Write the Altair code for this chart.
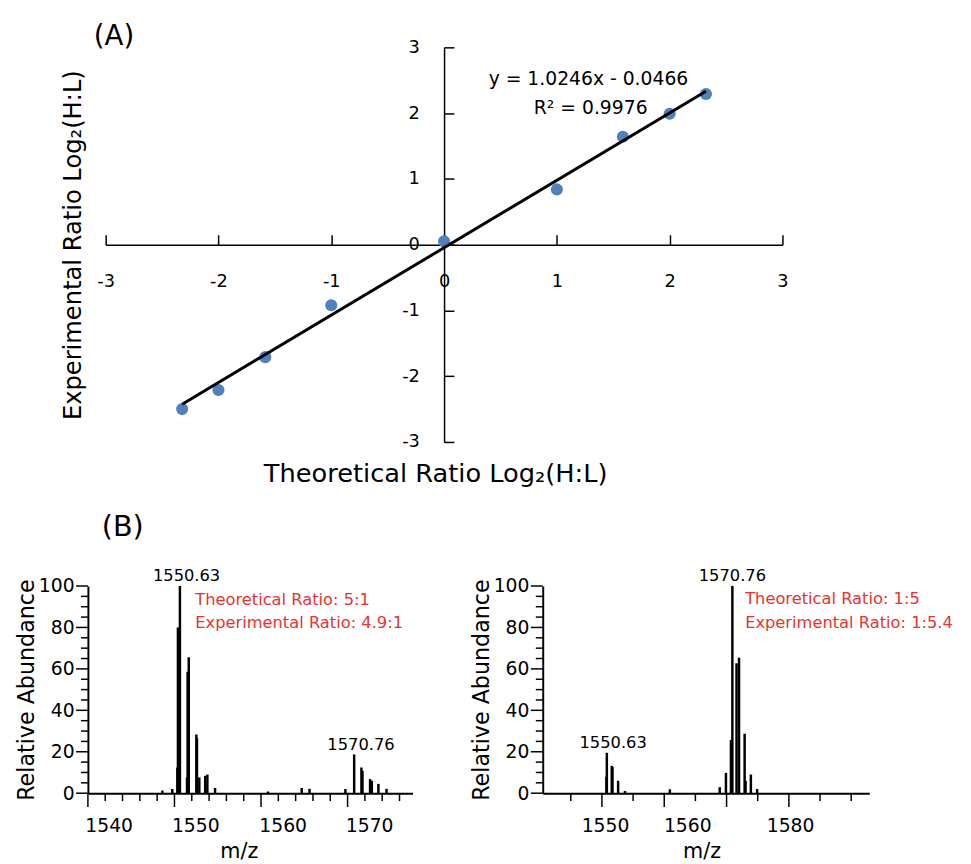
import altair as alt
import pandas as pd

FONT = "DejaVu Sans"
RED = "#e8332f"
BLUE = "#4f81bd"

# ---------------- Panel (A): log2 ratio regression ----------------
theoretical = [-2.3219, -2.0, -1.585, -1.0, 0.0, 1.0, 1.585, 2.0, 2.3219]
experimental = [-2.50, -2.21, -1.71, -0.92, 0.05, 0.84, 1.64, 1.99, 2.29]
slope = 1.0246
intercept = -0.0466
eq_text = ["y = 1.0246x - 0.0466", "R² = 0.9976"]
eq_x = [1.28, 1.30]
eq_y = [2.52, 2.07]
a_ticks = [-3, -2, -1, 0, 1, 2, 3]

# ---------------- Panel (B) left spectrum (5:1) ----------------
left_mz = [1548.6, 1549.75, 1550.33, 1550.40, 1550.63, 1551.45, 1551.52, 1551.65,
           1552.53, 1552.6, 1552.87, 1553.55, 1553.8, 1554.69,
           1560.8, 1564.7, 1565.6, 1569.75, 1570.76, 1571.6, 1571.72,
           1572.6, 1572.8, 1573.56, 1574.5]
left_ab = [1.3, 2.0, 12.4, 80.0, 100.0, 7.6, 58.6, 65.6,
           28.3, 26.5, 7.6, 8.4, 9.0, 2.5,
           0.8, 2.5, 2.1, 2.0, 18.7, 12.4, 10.8,
           6.8, 6.0, 4.5, 2.1]
left_lab = ["1550.63", "1570.76"]
left_lab_mz = [1551.4, 1571.55]
left_lab_ab = [100.0, 18.7]
left_note = ["Theoretical Ratio: 5:1", "Experimental Ratio: 4.9:1"]
left_note_mz = [1552.4, 1552.4]
left_note_ab = [93.3, 82.2]
left_major = [1540, 1550, 1560, 1570]
left_minor = [1542, 1544, 1546, 1548, 1552, 1554, 1556, 1558, 1562, 1564,
              1566, 1568, 1572, 1574, 1576]
left_tick_label_pos = [1542.4, 1552.4, 1562.5, 1572.5]
left_tick_label_txt = ["1540", "1550", "1560", "1570"]

# ---------------- Panel (B) right spectrum (1:5) ----------------
right_mz = [1550.72, 1550.79, 1551.58, 1551.70, 1552.6, 1553.7, 1560.9,
            1568.9, 1569.9, 1570.7, 1570.93, 1571.6, 1572.0, 1572.9,
            1573.05, 1573.9, 1574.9]
right_ab = [8.0, 19.5, 13.2, 12.7, 6.0, 1.1, 1.9,
            2.9, 9.8, 25.7, 100.0, 62.7, 65.4, 28.7,
            6.0, 9.0, 2.0]
right_lab = ["1570.76", "1550.63"]
right_lab_mz = [1570.93, 1551.8]
right_lab_ab = [100.0, 19.5]
right_note = ["Theoretical Ratio: 1:5", "Experimental Ratio: 1:5.4"]
right_note_mz = [1572.98, 1572.98]
right_note_ab = [93.7, 82.1]
right_major = [1550, 1560, 1570, 1580]
right_minor = [1545, 1555, 1565, 1575, 1585, 1590]
right_tick_label_pos = [1550.5, 1563.7, 1580.2]
right_tick_label_txt = ["1550", "1560", "1580"]

y_major = [0, 20, 40, 60, 80, 100]
y_minor = [5, 10, 15, 25, 30, 35, 45, 50, 55, 65, 70, 75, 85, 90, 95]

# ======================= Panel A chart =======================
pts = pd.DataFrame({"x": theoretical, "y": experimental})
fx = [min(theoretical), max(theoretical)]
fit = pd.DataFrame({"x": fx, "y": [slope * v + intercept for v in fx]})
eq = pd.DataFrame({"x": eq_x, "y": eq_y, "t": eq_text})

xs_a = alt.Scale(domain=[-3, 3], range=[18, 704], nice=False, zero=False)
ys_a = alt.Scale(domain=[-3, 3], nice=False, zero=False)

tick_style = dict(domainColor="black", domainWidth=1.5, tickColor="black",
                  tickWidth=1.5, labelFont=FONT, labelColor="black", grid=False,
                  labelFlush=False, labelOverlap=False)

x_tick_axis = alt.Axis(orient="top", offset=-200, values=a_ticks, tickSize=10,
                       labelPadding=-47, labelBaseline="middle", labelFontSize=18,
                       labelExpr="'' + datum.value", title=None,
                       minExtent=0, maxExtent=0, **tick_style)
y_tick_axis = alt.Axis(orient="right", offset=-359, values=a_ticks, tickSize=10,
                       labelPadding=-35, labelAlign="right", labelBaseline="middle",
                       labelFontSize=18, labelExpr="'' + datum.value", title=None,
                       minExtent=0, maxExtent=0, **tick_style)
x_title_axis = alt.Axis(orient="bottom", title="Theoretical Ratio Log₂(H:L)",
                        domain=False, ticks=False, labels=False, grid=False,
                        titleFont=FONT, titleFontSize=26, titleFontWeight="normal",
                        titleColor="black", titlePadding=19, titleX=352,
                        minExtent=0)
y_title_axis = alt.Axis(orient="left", title="Experimental Ratio Log₂(H:L)",
                        domain=False, ticks=False, labels=False, grid=False,
                        titleFont=FONT, titleFontSize=24.5, titleFontWeight="normal",
                        titleColor="black", titlePadding=2, minExtent=0)

points = alt.Chart(pts).mark_circle(size=150, color=BLUE, opacity=1).encode(
    x=alt.X("x:Q", scale=xs_a, axis=x_tick_axis),
    y=alt.Y("y:Q", scale=ys_a, axis=y_tick_axis),
)
line = alt.Chart(fit).mark_line(color="black", strokeWidth=3).encode(
    x=alt.X("x:Q", scale=xs_a, axis=x_title_axis),
    y=alt.Y("y:Q", scale=ys_a, axis=y_title_axis),
)
eq_marks = alt.Chart(eq).mark_text(font=FONT, fontSize=19, color="black",
                                   baseline="middle").encode(
    x=alt.X("x:Q", scale=xs_a, axis=None),
    y=alt.Y("y:Q", scale=ys_a, axis=None),
    text="t:N",
)
top = alt.layer(points, line, eq_marks).properties(
    width=720, height=400,
    title=alt.TitleParams("(A)", anchor="start", frame="group", font=FONT,
                          fontSize=28, fontWeight="normal", color="black",
                          dx=6, dy=37, offset=2, baseline="alphabetic"),
)


# ======================= Panel B charts =======================
def label_expr(pos, txt):
    expr = "''"
    for p, t in reversed(list(zip(pos, txt))):
        expr = f"datum.value === {p} ? '{t}' : ({expr})"
    return expr


OFF_X = alt.Axis(orient="top", domain=False, ticks=False, labels=False,
                 grid=False, title=None, minExtent=0, maxExtent=0)
OFF_Y = alt.Axis(orient="right", domain=False, ticks=False, labels=False,
                 grid=False, title=None, minExtent=0, maxExtent=0)


def spectrum(mz, ab, lab, lab_mz, lab_ab, note, note_mz, note_ab,
             xdomain, major, minor, tl_pos, tl_txt, width, title_x):
    H = 210
    peaks = pd.DataFrame({"mz": mz, "ab": ab, "base": [0.0] * len(mz)})
    labs = pd.DataFrame({"mz": lab_mz, "ab": lab_ab, "t": lab})
    notes = pd.DataFrame({"mz": note_mz, "ab": note_ab, "t": note})
    xs = alt.Scale(domain=xdomain, nice=False, zero=False)
    ys = alt.Scale(domain=[0, 100], nice=False)
    x_axis = alt.Axis(orient="bottom", values=tl_pos,
                      labelExpr=label_expr(tl_pos, tl_txt),
                      ticks=False, labelPadding=24,
                      labelFont=FONT, labelFontSize=19, labelColor="black",
                      labelFlush=False, labelOverlap=False,
                      domainColor="black", domainWidth=2, grid=False,
                      title="m/z", titleFont=FONT, titleFontSize=21,
                      titleFontWeight="normal", titleColor="black", titlePadding=5,
                      titleX=title_x)
    y_axis = alt.Axis(orient="left", values=y_major, ticks=False, labelPadding=14,
                      labelFont=FONT, labelFontSize=19, labelColor="black",
                      labelOverlap=False, labelFlush=False,
                      domainColor="black", domainWidth=2, grid=False,
                      title="Relative Abundance", titleFont=FONT, titleFontSize=22.5,
                      titleFontWeight="normal", titleColor="black", titlePadding=0)
    sticks = alt.Chart(peaks).mark_rule(color="black", strokeWidth=2.5).encode(
        x=alt.X("mz:Q", scale=xs, axis=x_axis),
        y=alt.Y("ab:Q", scale=ys, axis=y_axis),
        y2="base:Q",
    )

    def xticks(vals, length):
        return alt.Chart(pd.DataFrame({"v": vals})).mark_rule(
            color="black", strokeWidth=1.5).encode(
            x=alt.X("v:Q", scale=xs, axis=None),
            y=alt.value(H), y2=alt.value(H + length))

    def yticks(vals, length):
        return alt.Chart(pd.DataFrame({"v": vals})).mark_rule(
            color="black", strokeWidth=1.5).encode(
            y=alt.Y("v:Q", scale=ys, axis=None),
            x=alt.value(0), x2=alt.value(-length))

    peak_text = alt.Chart(labs).mark_text(font=FONT, fontSize=16.5, color="black",
                                          baseline="alphabetic", dy=-5).encode(
        x=alt.X("mz:Q", scale=xs, axis=OFF_X),
        y=alt.Y("ab:Q", scale=ys, axis=OFF_Y),
        text="t:N",
    )
    note_text = alt.Chart(notes).mark_text(font=FONT, fontSize=16.5, color=RED,
                                           align="left", baseline="middle").encode(
        x=alt.X("mz:Q", scale=xs, axis=None),
        y=alt.Y("ab:Q", scale=ys, axis=None),
        text="t:N",
    )
    return alt.layer(sticks, peak_text, xticks(major, 14), xticks(minor, 8),
                     yticks(y_major, 12), yticks(y_minor, 7),
                     note_text).properties(width=width, height=H)


left = spectrum(left_mz, left_ab, left_lab, left_lab_mz, left_lab_ab,
                left_note, left_note_mz, left_note_ab,
                [1540, 1577.5], left_major, left_minor,
                left_tick_label_pos, left_tick_label_txt, 329, 153)

right = spectrum(right_mz, right_ab, right_lab, right_lab_mz, right_lab_ab,
                 right_note, right_note_mz, right_note_ab,
                 [1540.5, 1592.9], right_major, right_minor,
                 right_tick_label_pos, right_tick_label_txt, 331, 161)

bottom = alt.hconcat(left, right, spacing=132, bounds="flush",
                     title=alt.TitleParams("(B)", anchor="start", frame="group",
                                           font=FONT, fontSize=29, fontWeight="normal",
                                           color="black", dx=14, offset=4,
                                           baseline="alphabetic"))

chart = alt.vconcat(top, bottom, spacing=146, bounds="flush").properties(
    padding={"left": 7, "top": 10, "right": 10, "bottom": 5},
    background="white",
).configure_view(stroke=None)

chart.save("out.html", embed_options={"renderer": "svg", "actions": False})
